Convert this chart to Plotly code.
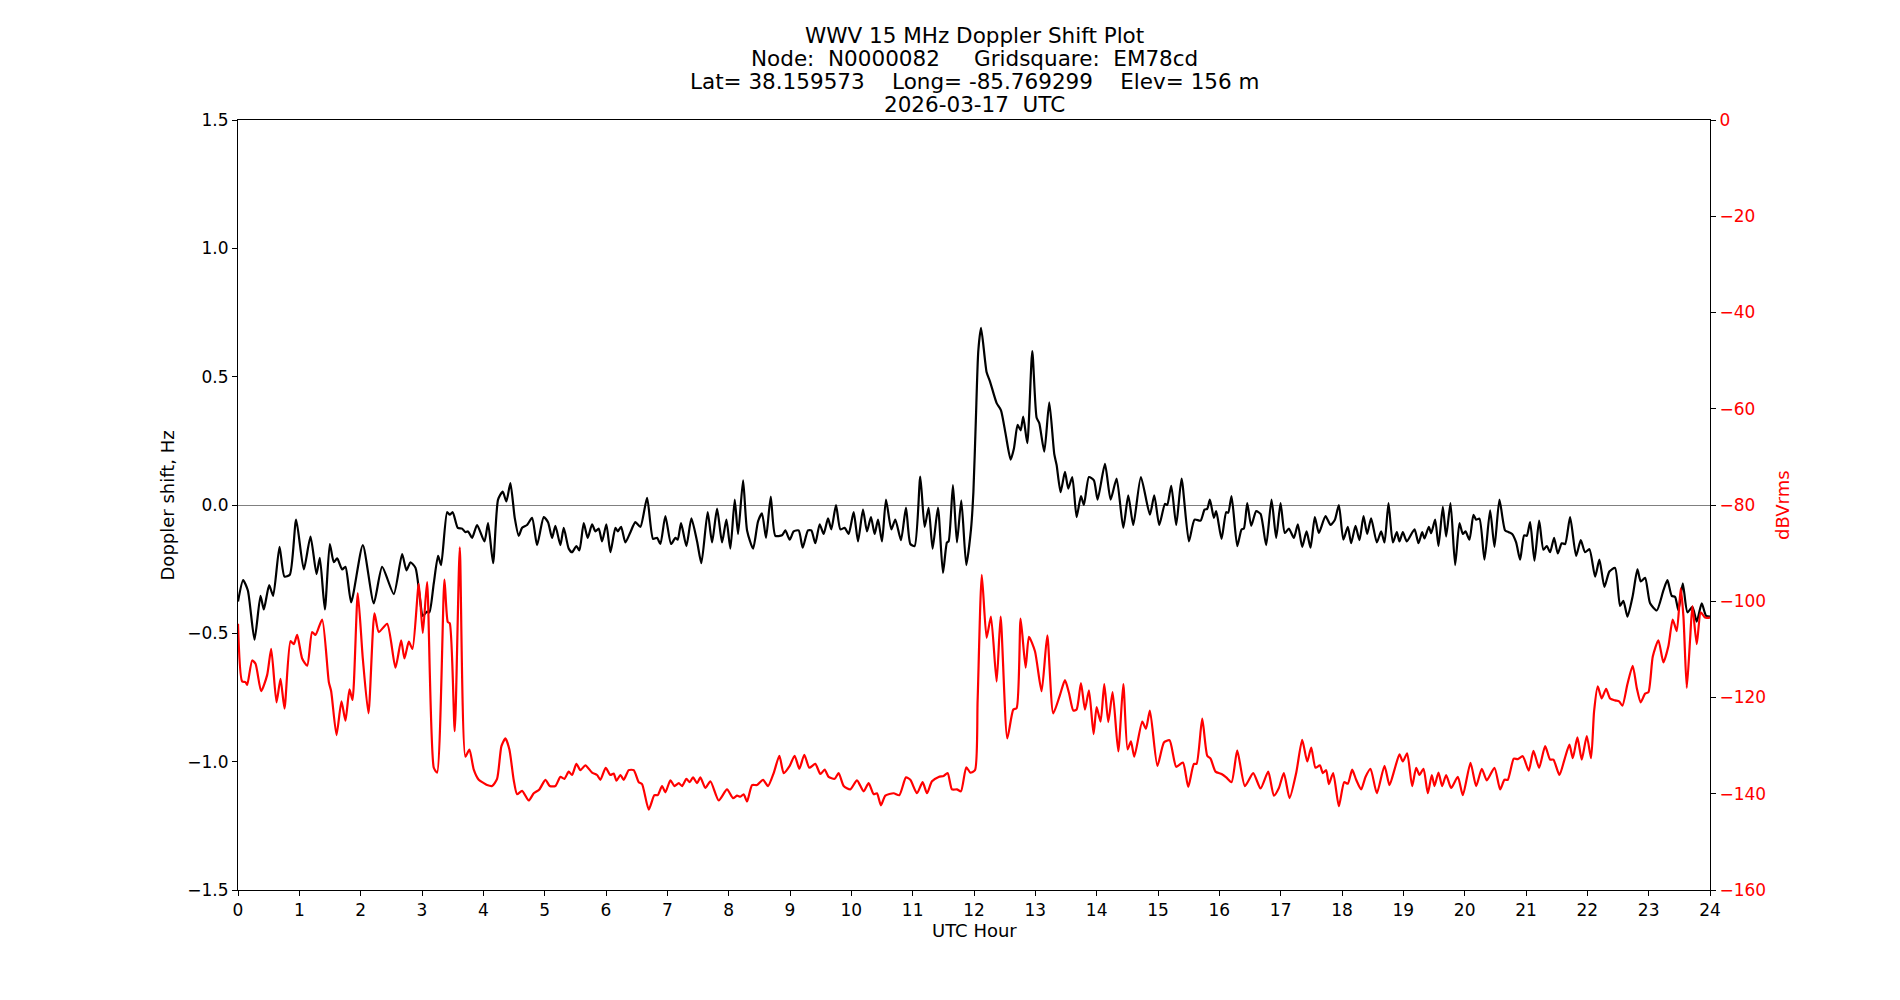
import plotly.graph_objects as go

# ---- Doppler shift (black), hours / Hz ----
doppler_hours = [0.0, 0.084, 0.161, 0.269, 0.367, 0.421, 0.508, 0.573, 0.677, 0.758, 0.845, 0.948, 1.073, 1.182, 1.280, 1.334, 1.416, 1.497, 1.562, 1.617, 1.698, 1.752, 1.845, 2.035, 2.214, 2.350, 2.540, 2.676, 2.747, 2.812, 2.894,
    2.958, 3.013, 3.083, 3.121, 3.192, 3.262, 3.311, 3.409, 3.453, 3.501, 3.583, 3.654, 3.708, 3.751, 3.817, 3.898, 4.018, 4.077, 4.159, 4.240, 4.316, 4.376, 4.441, 4.512, 4.577, 4.632, 4.713, 4.795, 4.876, 4.985, 5.055, 5.121, 5.175, 5.256, 5.311, 5.392, 5.447, 5.517, 5.566, 5.637, 5.702, 5.773, 5.827, 5.881, 5.936, 6.006, 6.072, 6.153,
    6.192, 6.246, 6.316, 6.398, 6.479, 6.561, 6.670, 6.767, 6.833, 6.887, 6.968, 7.061, 7.131, 7.170, 7.224, 7.311, 7.392, 7.485, 7.555, 7.658, 7.729, 7.811, 7.892, 7.963, 8.028, 8.099, 8.153, 8.235, 8.300, 8.398, 8.479, 8.544, 8.609, 8.686, 8.761, 8.870, 8.924, 8.995, 9.060, 9.141,
    9.207, 9.293, 9.348, 9.413, 9.484, 9.549, 9.620, 9.674, 9.750, 9.821, 9.891, 9.956, 10.038, 10.109, 10.190, 10.255, 10.320, 10.380, 10.435, 10.500, 10.565, 10.652, 10.717, 10.809, 10.891, 10.962, 11.032, 11.124, 11.195, 11.260, 11.325, 11.412, 11.494, 11.559, 11.586, 11.657, 11.722, 11.793, 11.874, 11.951,
    11.99, 12.03, 12.07, 12.115, 12.206, 12.260, 12.369, 12.440, 12.516, 12.597, 12.651, 12.711, 12.760, 12.803, 12.869, 12.950, 13.021, 13.064, 13.146, 13.227, 13.309, 13.347, 13.412, 13.483, 13.537, 13.602, 13.673, 13.744, 13.792, 13.874, 13.955, 14.015, 14.135, 14.227, 14.325, 14.434, 14.515, 14.597, 14.721, 14.868, 14.939,
    15.020, 15.113, 15.150, 15.216, 15.297, 15.384, 15.504, 15.596, 15.694, 15.759, 15.802, 15.846, 15.911, 15.949, 16.036, 16.112, 16.145, 16.199, 16.292, 16.362, 16.400, 16.455, 16.520, 16.601, 16.672, 16.764, 16.851, 16.927, 16.998, 17.068, 17.134, 17.215, 17.280, 17.351, 17.422, 17.487, 17.557, 17.623, 17.731, 17.813, 17.884, 17.949,
    18.022, 18.095, 18.149, 18.220, 18.285, 18.351, 18.410, 18.475, 18.568, 18.638, 18.693, 18.758, 18.829, 18.894, 18.937, 18.992, 19.057, 19.182, 19.247, 19.307, 19.345, 19.415, 19.454, 19.519, 19.573, 19.644, 19.698, 19.769, 19.845, 19.915, 19.970, 20.013, 20.078, 20.143, 20.187, 20.241, 20.323, 20.415, 20.486, 20.567, 20.659, 20.719, 20.774, 20.839, 20.904,
    20.969, 21.013, 21.067, 21.138, 21.214, 21.284, 21.339, 21.393, 21.458, 21.518, 21.583, 21.638, 21.719, 21.817, 21.893, 21.963, 22.034, 22.127, 22.197, 22.278, 22.360, 22.452, 22.534, 22.588, 22.654, 22.740, 22.817, 22.871, 22.942, 23.023, 23.132, 23.240, 23.306, 23.376, 23.431, 23.485, 23.556, 23.632, 23.713, 23.784, 23.865, 23.936, 24.0]
doppler_hz = [-0.376, -0.293, -0.333, -0.525, -0.354, -0.407, -0.312, -0.354, -0.163, -0.279, -0.272, -0.057, -0.251, -0.123, -0.269, -0.206, -0.407, -0.152, -0.223, -0.208, -0.251, -0.241, -0.379, -0.156, -0.383, -0.241, -0.347, -0.191, -0.255, -0.223, -0.245,
    -0.347, -0.432, -0.415, -0.418, -0.305, -0.198, -0.234, -0.028, -0.038, -0.028, -0.089, -0.092, -0.106, -0.103, -0.128, -0.078, -0.142, -0.071, -0.227, 0.021, 0.052, 0.014, 0.085, -0.050, -0.120, -0.089, -0.078, -0.050, -0.156, -0.047, -0.067, -0.128, -0.081, -0.156, -0.089, -0.170, -0.184, -0.160, -0.177, -0.071, -0.128, -0.075, -0.103, -0.092, -0.142, -0.075, -0.184, -0.089,
    -0.103, -0.085, -0.146, -0.106, -0.067, -0.085, 0.028, -0.132, -0.128, -0.152, -0.043, -0.152, -0.128, -0.135, -0.071, -0.160, -0.052, -0.142, -0.227, -0.028, -0.146, -0.014, -0.146, -0.057, -0.170, 0.021, -0.113, 0.096, -0.099, -0.170, -0.064, -0.033, -0.128, 0.033, -0.120, -0.118, -0.099, -0.135, -0.103, -0.099,
    -0.166, -0.099, -0.099, -0.149, -0.075, -0.113, -0.052, -0.095, 0.0, -0.095, -0.089, -0.113, -0.028, -0.142, -0.018, -0.103, -0.047, -0.113, -0.057, -0.142, 0.021, -0.095, -0.057, -0.137, -0.010, -0.152, -0.160, 0.111, -0.085, -0.011, -0.170, -0.010, -0.265, -0.146, -0.142, 0.078, -0.146, 0.018, -0.234, -0.095,
    0.05, 0.33, 0.60, 0.690, 0.517, 0.482, 0.397, 0.369, 0.276, 0.177, 0.220, 0.312, 0.291, 0.344, 0.241, 0.600, 0.340, 0.319, 0.208, 0.400, 0.198, 0.156, 0.050, 0.129, 0.064, 0.109, -0.047, 0.035, 0.0, 0.109, 0.096, 0.021, 0.160, 0.021, 0.103, -0.089, 0.038, -0.078, 0.109, -0.038, 0.038,
    -0.078, 0.004, 0.0, 0.075, -0.078, 0.103, -0.142, -0.057, -0.061, -0.018, -0.015, 0.021, -0.050, -0.024, -0.132, -0.028, -0.030, 0.035, -0.160, -0.095, -0.092, 0.007, -0.081, -0.024, -0.035, -0.156, 0.021, -0.128, 0.007, -0.109, -0.092, -0.128, -0.075, -0.163, -0.103, -0.166, -0.047, -0.109, -0.043, -0.078, -0.057, 0.0,
    -0.135, -0.085, -0.149, -0.081, -0.137, -0.043, -0.113, -0.052, -0.146, -0.103, -0.146, 0.007, -0.146, -0.106, -0.142, -0.106, -0.142, -0.095, -0.149, -0.106, -0.130, -0.085, -0.110, -0.057, -0.160, -0.007, -0.123, 0.007, -0.234, -0.071, -0.113, -0.103, -0.135, -0.038, -0.057, -0.053, -0.213, -0.021, -0.163, 0.021, -0.099, -0.106, -0.113, -0.146, -0.213,
    -0.118, -0.120, -0.067, -0.217, -0.061, -0.174, -0.160, -0.184, -0.128, -0.189, -0.149, -0.152, -0.047, -0.198, -0.137, -0.184, -0.172, -0.279, -0.213, -0.319, -0.259, -0.245, -0.393, -0.373, -0.435, -0.354, -0.251, -0.298, -0.284, -0.383, -0.411, -0.333, -0.293, -0.354, -0.358, -0.411, -0.305, -0.418, -0.397, -0.454, -0.383, -0.432, -0.435]

# ---- Received power (red), hours / dBVrms ----
power_hours = [0.0, 0.068, 0.122, 0.150, 0.231, 0.286, 0.378, 0.476, 0.541, 0.628, 0.693, 0.758, 0.856, 0.910, 0.965, 1.046, 1.128, 1.209, 1.264, 1.372, 1.481, 1.519, 1.606, 1.687, 1.752, 1.818, 1.867, 1.953, 2.035, 2.127, 2.225, 2.296, 2.432, 2.567, 2.660, 2.714, 2.785, 2.845, 2.947, 3.013, 3.083,
    3.192, 3.246, 3.366, 3.420, 3.453, 3.534, 3.616, 3.708, 3.773, 3.844, 3.925, 4.007, 4.061, 4.143, 4.224, 4.295, 4.360, 4.425, 4.496, 4.550, 4.632, 4.740, 4.822, 4.914, 5.012, 5.083, 5.175, 5.256, 5.322, 5.392, 5.447, 5.517, 5.582, 5.664, 5.773, 5.854, 5.909, 5.995, 6.071, 6.126,
    6.170, 6.235, 6.289, 6.371, 6.452, 6.534, 6.588, 6.697, 6.789, 6.844, 6.914, 6.968, 7.050, 7.115, 7.186, 7.240, 7.311, 7.365, 7.419, 7.485, 7.539, 7.620, 7.702, 7.838, 7.973, 8.071, 8.137, 8.191, 8.245, 8.300, 8.381, 8.463, 8.561, 8.642, 8.734, 8.827, 8.897, 8.995, 9.076,
    9.152, 9.234, 9.315, 9.413, 9.495, 9.565, 9.630, 9.728, 9.793, 9.875, 9.983, 10.092, 10.201, 10.282, 10.364, 10.418, 10.483, 10.554, 10.690, 10.782, 10.891, 10.962, 11.070, 11.163, 11.233, 11.315, 11.424, 11.505, 11.570, 11.641, 11.722, 11.787, 11.874, 11.940, 12.016,
    12.059, 12.127, 12.206, 12.276, 12.369, 12.434, 12.543, 12.641, 12.695, 12.760, 12.842, 12.896, 12.994, 13.102, 13.195, 13.292, 13.401, 13.483, 13.548, 13.619, 13.673, 13.744, 13.809, 13.874, 13.950, 13.999, 14.064, 14.124, 14.189, 14.260, 14.352, 14.434, 14.504, 14.559, 14.613, 14.743, 14.803, 14.868,
    14.990, 15.099, 15.189, 15.297, 15.406, 15.493, 15.585, 15.629, 15.721, 15.803, 15.857, 15.938, 16.036, 16.112, 16.199, 16.292, 16.417, 16.552, 16.672, 16.797, 16.889, 16.971, 17.052, 17.145, 17.253, 17.351, 17.433, 17.498, 17.568, 17.639, 17.688, 17.742, 17.786, 17.856, 17.949,
    18.035, 18.095, 18.166, 18.231, 18.312, 18.383, 18.465, 18.568, 18.693, 18.774, 18.856, 18.937, 18.992, 19.062, 19.144, 19.209, 19.263, 19.329, 19.399, 19.464, 19.508, 19.573, 19.633, 19.698, 19.779, 19.888, 19.970, 20.095, 20.187, 20.279, 20.361, 20.486, 20.578, 20.649, 20.703, 20.801, 20.866, 20.947,
    21.045, 21.121, 21.214, 21.312, 21.393, 21.447, 21.545, 21.627, 21.708, 21.763, 21.838, 21.909, 21.991, 22.061, 22.110, 22.170, 22.235, 22.306, 22.371, 22.452, 22.518, 22.572, 22.654, 22.740, 22.806, 22.871, 22.942, 22.996, 23.067, 23.159, 23.240, 23.322, 23.392, 23.458, 23.523, 23.567, 23.621, 23.675, 23.713, 23.784, 23.849, 23.920, 24.0]
power_db = [-104.7, -116.7, -116.8, -117.4, -112.3, -113.0, -118.7, -115.3, -109.9, -121.0, -116.1, -122.3, -108.3, -108.9, -107.0, -111.9, -113.4, -106.4, -107.0, -103.8, -116.8, -118.7, -127.8, -120.8, -124.8, -118.3, -120.5, -98.3, -111.9, -123.3, -102.5, -106.4, -104.7, -113.8, -108.1, -111.9, -108.4, -109.9, -96.4, -106.6, -96.0,
    -134.6, -135.6, -95.5, -104.3, -104.6, -127.0, -88.8, -132.3, -130.8, -135.0, -137.1, -137.8, -138.2, -138.4, -136.9, -130.1, -128.5, -130.8, -137.2, -140.1, -139.4, -141.4, -139.9, -139.1, -137.1, -138.4, -138.4, -136.5, -136.9, -135.4, -136.1, -133.8, -135.1, -134.1, -135.6, -136.1, -137.1, -134.6, -136.1, -135.8,
    -137.3, -136.1, -137.1, -135.1, -135.1, -137.6, -138.0, -143.3, -140.3, -140.3, -138.4, -139.7, -137.2, -138.4, -137.8, -138.4, -136.9, -137.6, -136.6, -137.8, -136.6, -138.8, -137.4, -141.4, -139.1, -140.9, -140.4, -140.6, -140.1, -141.6, -138.2, -138.2, -137.1, -138.4, -135.7, -132.1, -135.7, -134.2, -132.1,
    -134.8, -131.9, -134.6, -133.8, -135.9, -135.0, -136.5, -136.9, -135.7, -138.4, -139.1, -137.2, -139.5, -137.8, -140.1, -139.9, -142.4, -140.4, -139.9, -140.3, -136.6, -137.1, -139.9, -137.6, -139.9, -137.4, -136.5, -136.3, -135.7, -139.1, -139.1, -139.5, -134.5, -135.6, -135.1,
    -120.6, -94.5, -107.6, -103.2, -116.7, -103.2, -128.5, -122.5, -122.2, -103.6, -113.8, -107.4, -110.4, -118.7, -107.1, -123.3, -119.5, -116.4, -119.0, -122.7, -122.5, -117.0, -122.5, -118.5, -127.6, -122.0, -125.0, -117.2, -125.1, -118.9, -131.2, -117.2, -130.8, -129.1, -132.3, -125.0, -126.5, -122.7,
    -134.2, -129.3, -128.9, -134.4, -133.5, -138.6, -133.8, -133.8, -124.4, -132.1, -132.7, -135.4, -135.9, -136.6, -137.6, -131.0, -138.4, -135.7, -138.9, -135.4, -140.4, -138.8, -135.7, -140.9, -135.7, -128.8, -133.3, -130.4, -134.6, -134.1, -135.7, -135.1, -138.0, -135.7, -142.6,
    -137.6, -137.9, -135.0, -137.1, -139.1, -136.5, -134.8, -139.9, -134.2, -138.2, -135.0, -131.8, -133.3, -131.6, -138.4, -134.6, -136.1, -134.8, -139.9, -136.1, -138.4, -135.6, -138.4, -136.1, -138.8, -136.5, -140.3, -133.6, -138.4, -134.8, -137.2, -134.6, -139.1, -137.1, -137.1, -132.7, -132.8, -132.2,
    -135.2, -131.1, -134.6, -130.1, -132.9, -132.9, -136.1, -132.9, -129.8, -132.6, -128.3, -132.9, -128.0, -132.6, -122.9, -117.7, -120.2, -118.2, -120.2, -120.6, -120.8, -121.7, -117.2, -113.4, -118.0, -121.0, -119.2, -118.9, -111.5, -108.1, -112.7, -109.3, -103.8, -106.2, -97.3, -103.2, -118.0, -108.0, -101.0, -108.9, -102.3, -103.4, -103.4]

x_ticks = list(range(0, 25))
title_lines = ["WWV 15 MHz Doppler Shift Plot",
               "Node:  N0000082     Gridsquare:  EM78cd",
               "Lat= 38.159573    Long= -85.769299    Elev= 156 m",
               "2026-03-17  UTC"]

FONT = "DejaVu Sans"

fig = go.Figure()
fig.add_trace(go.Scatter(x=doppler_hours, y=doppler_hz, mode="lines",
                         line=dict(color="black", width=2.2, shape="spline", smoothing=0.6),
                         yaxis="y", showlegend=False))
fig.add_trace(go.Scatter(x=power_hours, y=power_db, mode="lines",
                         line=dict(color="red", width=2.2, shape="spline", smoothing=0.6),
                         yaxis="y2", showlegend=False))

annotations = []
shifts = [85, 62, 39, 16]
for txt, s in zip(title_lines, shifts):
    annotations.append(dict(text=txt, xref="paper", yref="paper", x=0.5, y=1, yshift=s,
                            xanchor="center", yanchor="middle", showarrow=False,
                            font=dict(family=FONT, size=21.5, color="black")))
annotations.append(dict(text="Doppler shift, Hz", xref="paper", yref="paper", x=-0.0479, y=0.5,
                        textangle=-90, xanchor="center", yanchor="middle", showarrow=False,
                        font=dict(family=FONT, size=18, color="black")))
annotations.append(dict(text="dBVrms", xref="paper", yref="paper", x=1.0489, y=0.5,
                        textangle=-90, xanchor="center", yanchor="middle", showarrow=False,
                        font=dict(family=FONT, size=18, color="red")))
annotations.append(dict(text="UTC Hour", xref="paper", yref="paper", x=0.5, y=-0.053,
                        xanchor="center", yanchor="middle", showarrow=False,
                        font=dict(family=FONT, size=18, color="black")))

fig.update_layout(
    width=1900, height=1000,
    margin=dict(l=238, r=190, t=120, b=110),
    paper_bgcolor="white", plot_bgcolor="white",
    font=dict(family=FONT, size=17, color="black"),
    annotations=annotations,
    xaxis=dict(range=[0, 24], tickmode="array", tickvals=x_ticks, ticktext=[str(t) for t in x_ticks],
               showgrid=False, zeroline=False, showline=True, linecolor="black", linewidth=1,
               mirror=True, ticks="outside", ticklen=5, tickcolor="black",
               tickfont=dict(family=FONT, size=17, color="black")),
    yaxis=dict(range=[-1.5, 1.5], dtick=0.5, tickformat=".1f", showgrid=False,
               zeroline=True, zerolinecolor="#808080", zerolinewidth=1,
               showline=True, linecolor="black", linewidth=1, ticks="outside", ticklen=5,
               tickcolor="black", tickfont=dict(family=FONT, size=17, color="black")),
    yaxis2=dict(range=[-160, 0], dtick=20, overlaying="y", side="right", showgrid=False,
                zeroline=False, showline=True, linecolor="black", linewidth=1, ticks="outside",
                ticklen=5, tickcolor="black", tickfont=dict(family=FONT, size=17, color="red")),
)

fig.write_html("out.html")
